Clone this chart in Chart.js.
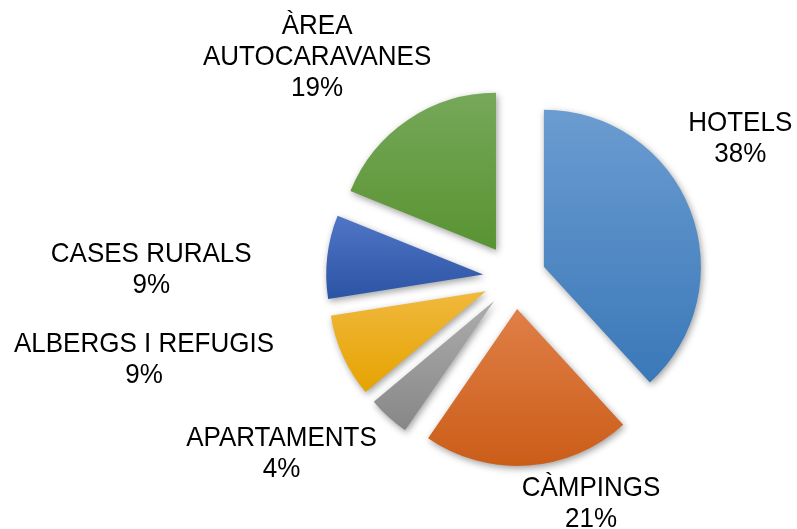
<!DOCTYPE html>
<html><head><meta charset="utf-8">
<script src="https://cdn.jsdelivr.net/npm/chart.js@4"></script>
<style>html,body{margin:0;padding:0;background:#fff}canvas{display:block}</style>
</head><body>
<canvas id="c" width="797" height="529"></canvas>
<script>
const categories = ['HOTELS', 'CÀMPINGS', 'APARTAMENTS', 'ALBERGS I REFUGIS', 'CASES RURALS', 'ÀREA AUTOCARAVANES'];
const labelLines = [['HOTELS'], ['CÀMPINGS'], ['APARTAMENTS'], ['ALBERGS I REFUGIS'], ['CASES RURALS'], ['ÀREA', 'AUTOCARAVANES']];
const values = [38.2, 21.4, 4.3, 8.6, 8.6, 18.9];
const topColors = ['#6B9CD1', '#E07F48', '#ACACAC', '#F0B83E', '#5075C6', '#76A859'];
const bottomColors = ['#3A78B8', '#CB5D18', '#878787', '#E6A300', '#2C54A4', '#599332'];

const total = values.reduce((a, b) => a + b, 0);

const piePlugin = {
  id: 'explodedPie',
  afterDatasetUpdate(chart, args, opts) {
    const meta = chart.getDatasetMeta(args.index);
    meta.data.forEach((arc, i) => {
      const d = opts.distances[i] || 0;
      const mid = (arc.startAngle + arc.endAngle) / 2;
      arc.x += Math.cos(mid) * d;
      arc.y += Math.sin(mid) * d;
      const r = arc.outerRadius;
      const ys = [arc.y, arc.y + Math.sin(arc.startAngle) * r, arc.y + Math.sin(arc.endAngle) * r];
      for (let k = -4; k <= 4; k++) {
        const a = k * Math.PI / 2;
        if (a > arc.startAngle && a < arc.endAngle) ys.push(arc.y + Math.sin(a) * r);
      }
      const minY = Math.min(...ys), maxY = Math.max(...ys);
      const g = chart.ctx.createLinearGradient(0, minY, 0, maxY);
      g.addColorStop(0, topColors[i]);
      g.addColorStop(1, bottomColors[i]);
      arc.options = Object.assign({}, arc.options, { backgroundColor: g });
    });
  },
  beforeDatasetsDraw(chart) {
    const ctx = chart.ctx;
    ctx.save();
    ctx.shadowColor = 'rgba(0,0,0,0.38)';
    ctx.shadowBlur = 7;
    ctx.shadowOffsetX = 1.5;
    ctx.shadowOffsetY = 2.5;
  },
  afterDatasetsDraw(chart, args, opts) {
    const ctx = chart.ctx;
    ctx.restore();
    const meta = chart.getDatasetMeta(0);
    ctx.save();
    ctx.font = opts.font;
    ctx.fillStyle = opts.color;
    ctx.textAlign = 'center';
    ctx.textBaseline = 'alphabetic';
    meta.data.forEach((arc, i) => {
      const mid = (arc.startAngle + arc.endAngle) / 2;
      const ox = arc.x + Math.cos(mid) * arc.outerRadius;
      const oy = arc.y + Math.sin(mid) * arc.outerRadius;
      const off = opts.labelOffsets[i];
      const lines = labelLines[i].concat([Math.round(values[i] / total * 100) + '%']);
      lines.forEach((t, j) => {
        ctx.save();
        ctx.translate(ox + off[0], oy + off[1] + j * opts.lineHeight);
        ctx.scale(1, opts.stretchY);
        ctx.fillText(t, 0, 0);
        ctx.restore();
      });
    });
    ctx.restore();
  }
};

new Chart(document.getElementById('c'), {
  type: 'pie',
  data: {
    labels: categories,
    datasets: [{
      data: values,
      backgroundColor: topColors,
      borderWidth: 0,
      radius: 157
    }]
  },
  options: {
    responsive: false,
    animation: false,
    events: [],
    devicePixelRatio: 1,
    radius: 157,
    layout: { padding: { left: 233, right: 0, top: 27, bottom: 0 } },
    plugins: {
      legend: { display: false },
      tooltip: { enabled: false },
      explodedPie: {
        distances: [31, 31, 31, 32, 32, 34],
        labelOffsets: [[50, -79], [63, 30], [-107, 29], [-199, -4], [-176, 5], [-91, -86]],
        lineHeight: 31,
        stretchY: 1.08,
        font: '26px "Liberation Sans", Arial, sans-serif',
        color: '#000000'
      }
    }
  },
  plugins: [piePlugin]
});
</script>
</body></html>
